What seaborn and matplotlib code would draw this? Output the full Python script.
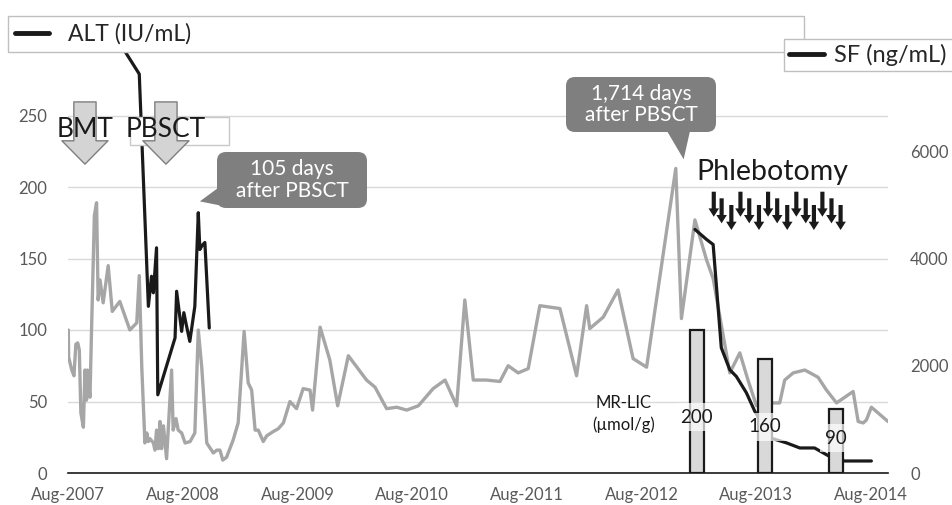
import pandas as pd
import matplotlib.pyplot as plt
import matplotlib.dates as mdates
from matplotlib.lines import Line2D
from matplotlib.patches import Rectangle, FancyBboxPatch, Polygon
from matplotlib.transforms import IdentityTransform
import seaborn as sns

# ALT (IU/mL), grey line, left axis
alt_dates = [
    "2007-08-02", "2007-08-03", "2007-08-13", "2007-08-20", "2007-08-26", "2007-09-01",
    "2007-09-06", "2007-09-11", "2007-09-19", "2007-09-24", "2007-09-29", "2007-10-02",
    "2007-10-10", "2007-10-15", "2007-10-24", "2007-10-31", "2007-11-05", "2007-11-11",
    "2007-11-21", "2007-12-07", "2007-12-20", "2008-01-13", "2008-02-14", "2008-03-07",
    "2008-03-15", "2008-03-23", "2008-04-02", "2008-04-08", "2008-04-13", "2008-04-18",
    "2008-04-29", "2008-05-04", "2008-05-09", "2008-05-15", "2008-05-20", "2008-05-25",
    "2008-05-31", "2008-06-10", "2008-06-26", "2008-07-01", "2008-07-10", "2008-07-17",
    "2008-07-28", "2008-08-08", "2008-08-24", "2008-09-08", "2008-09-19", "2008-09-30",
    "2008-10-16", "2008-11-06", "2008-11-17", "2008-11-27", "2008-12-06", "2008-12-18",
    "2009-01-08", "2009-01-24", "2009-02-12", "2009-02-25", "2009-03-08", "2009-03-19",
    "2009-03-29", "2009-04-14", "2009-04-25", "2009-05-16", "2009-06-01", "2009-06-17",
    "2009-07-08", "2009-07-29", "2009-08-19", "2009-09-10", "2009-09-18", "2009-10-12",
    "2009-11-12", "2009-12-07", "2010-01-10", "2010-03-09", "2010-04-05", "2010-05-12",
    "2010-06-13", "2010-07-15", "2010-08-21", "2010-10-07", "2010-11-14", "2010-12-21",
    "2011-01-16", "2011-02-12", "2011-03-26", "2011-05-08", "2011-06-03", "2011-07-05",
    "2011-08-06", "2011-09-12", "2011-11-15", "2012-01-07", "2012-02-08", "2012-02-18",
    "2012-04-01", "2012-05-18", "2012-07-05", "2012-08-17", "2012-11-18", "2012-12-06",
    "2013-01-18", "2013-02-24", "2013-03-17", "2013-05-09", "2013-06-10", "2013-07-06",
    "2013-08-02", "2013-09-03", "2013-10-15", "2013-10-31", "2013-11-27", "2014-01-03",
    "2014-02-14", "2014-03-13", "2014-04-14", "2014-06-06", "2014-06-22", "2014-07-08",
    "2014-07-18", "2014-08-03", "2014-08-19", "2014-09-25",
]
alt_values = [
    100, 81, 72, 68, 90, 91,
    86, 42, 32, 72, 51, 72,
    53, 100, 180, 189, 121, 135,
    119, 145, 113, 120, 100, 105,
    138, 74, 21, 28, 22, 24,
    21, 16, 30, 17, 36, 17,
    33, 10, 72, 30, 38, 30,
    28, 21, 22, 28, 100, 74,
    21, 14, 16, 16, 9, 11,
    23, 35, 99, 63, 58, 30,
    30, 22, 26, 29, 31, 35,
    50, 45, 59, 58, 44, 102,
    79, 47, 82, 65, 60, 45,
    46, 44, 47, 59, 65, 47,
    121, 65, 65, 64, 75, 70,
    73, 117, 115, 68, 117, 101,
    109, 128, 80, 74, 213, 108,
    177, 149, 136, 70, 84, 65,
    47, 49, 49, 65, 70, 72,
    67, 58, 49, 57, 36, 35,
    37, 46, 43, 36,
]

# SF (ng/mL), black line, right axis
sf_dates = [
    "2007-11-11", "2008-03-15", "2008-04-13", "2008-04-23", "2008-04-29", "2008-05-09",
    "2008-05-13", "2008-07-07", "2008-07-12", "2008-07-28", "2008-08-04", "2008-08-11",
    "2008-08-23", "2008-09-08", "2008-09-19", "2008-09-24", "2008-10-02", "2008-10-10",
    "2008-10-24",
    "2013-01-18", "2013-02-24", "2013-03-17", "2013-04-12", "2013-05-09", "2013-05-30",
    "2013-07-01", "2013-07-28", "2013-08-06", "2013-08-22", "2013-09-19", "2013-11-06",
    "2013-12-18", "2014-02-03", "2014-03-24", "2014-05-10", "2014-08-03",
]
sf_values = [
    8600, 7440, 3108, 3669, 3360, 4200,
    1458, 2520, 3389, 2641, 2990, 2785,
    2454, 3108, 4854, 4168, 4250, 4299,
    2704,
    4542, 4355, 4261, 2336, 1925, 1800,
    1495, 1146, 1065, 673, 648, 561,
    467, 467, 305, 224, 224,
]

# MR-LIC (umol/g) bars
lic_dates = ["2013-01-24", "2013-08-30", "2014-04-13"]
lic_values = [200, 160, 90]

# phlebotomy dates
phleb_dates = [
    "2013-03-19", "2013-04-13", "2013-05-14", "2013-06-12", "2013-07-10",
    "2013-08-10", "2013-09-08", "2013-10-07", "2013-11-08", "2013-12-07",
    "2014-01-06", "2014-02-01", "2014-02-28", "2014-03-29", "2014-04-27",
]

event_names = ["BMT", "PBSCT"]
event_dates = ["2007-09-24", "2008-06-08"]

callout_texts = ["105 days\nafter PBSCT", "1,714 days\nafter PBSCT"]
callout_dates = ["2008-09-24", "2012-12-13"]
callout_sf = [5065, 5850]

sns.set_theme(style="white")
plt.rcParams['font.family'] = ['Lato', 'DejaVu Sans']

alt = pd.DataFrame({"date": pd.to_datetime(alt_dates), "ALT": alt_values})
sf = pd.DataFrame({"date": pd.to_datetime(sf_dates), "SF": sf_values})
sf["period"] = (sf["date"] > "2010-01-01").astype(int)

W, H = 952, 505
fig = plt.figure(figsize=(W / 100, H / 100), dpi=100)
ax = fig.add_axes([68 / W, 32 / H, 820 / W, 429 / H])
ax2 = ax.twinx()
ax3 = ax.twinx()

grey = "#a6a6a6"
black = "#1a1a1a"
tick_col = "#595959"
call_col = "#7f7f7f"

sns.lineplot(data=alt, x="date", y="ALT", ax=ax, color=grey, lw=2.4,
             estimator=None, sort=False)
sns.lineplot(data=sf, x="date", y="SF", units="period", estimator=None,
             ax=ax2, color=black, lw=2.3, sort=False)
ax3.bar(pd.to_datetime(lic_dates), lic_values, width=44, color="#d9d9d9",
        edgecolor=black, lw=1.6, zorder=2)

ax.set_xlim(pd.Timestamp("2007-08-01"), pd.Timestamp("2014-09-25"))
ax.set_ylim(0, 300)
ax2.set_ylim(0, 8000)
ax3.set_ylim(0, 600)
ax.set_yticks(range(0, 251, 50))
ax2.set_yticks(range(0, 6001, 2000))
ax.xaxis.set_major_locator(mdates.MonthLocator(bymonth=8, bymonthday=1))
ax.xaxis.set_major_formatter(mdates.DateFormatter("%b-%Y"))

for a in (ax, ax2, ax3):
    a.set_xlabel("")
    a.set_ylabel("")
    for s in a.spines.values():
        s.set_visible(False)
ax.spines["bottom"].set_visible(True)
ax.spines["bottom"].set_color(black)
ax.spines["bottom"].set_linewidth(1.2)
ax.grid(axis="y", color="#d9d9d9", lw=1)
ax.grid(axis="x", visible=False)
ax.tick_params(axis="y", length=0, labelsize=12, labelcolor=tick_col, pad=15)
ax.tick_params(axis="x", length=0, labelsize=12, labelcolor=tick_col, pad=10)
ax2.tick_params(axis="y", length=0, labelsize=12, labelcolor=tick_col, pad=16)
ax3.yaxis.set_visible(False)

# bar labels
lic_label_y = [0.13, 0.108, 0.081]
for d, v, fy in zip(lic_dates, lic_values, lic_label_y):
    ax3.annotate(str(v), xy=(pd.Timestamp(d), fy), xycoords=("data", "axes fraction"),
                 ha="center", va="center", fontsize=13.5, color=black, zorder=4,
                 bbox=dict(boxstyle="square,pad=0.3", fc="white", ec="none", alpha=0.7))
ax3.text((624 - 68) / 820, (473 - 414) / 429, "MR-LIC\n(\u00b5mol/g)", transform=ax3.transAxes,
         ha="center", va="center", fontsize=12, color=black, linespacing=1.35)

# BMT / PBSCT markers
ax3.add_patch(Rectangle((130 / W, 1 - 145 / H), 99 / W, 28 / H, transform=fig.transFigure,
                        fc="white", ec="#c8c8c8", lw=1, zorder=5))
for name, d in zip(event_names, event_dates):
    x = pd.Timestamp(d)
    ax3.annotate("", xy=(x, 0.72), xytext=(x, 0.865), xycoords=("data", "axes fraction"),
                 textcoords=("data", "axes fraction"), zorder=6,
                 arrowprops=dict(arrowstyle="simple,head_length=0.42,head_width=0.83,tail_width=0.4",
                                 mutation_scale=40, fc="#d4d4d4", ec="#7f7f7f", lw=1,
                                 shrinkA=0, shrinkB=0))
    ax3.annotate(name, xy=(x, 0.783), xycoords=("data", "axes fraction"), ha="center",
                 va="baseline", fontsize=19, color=black, zorder=7)

# callouts: box (left, top, width, height in px) and tail base points (px)
callout_boxes = [(217, 152, 150, 56), (566, 77, 150, 55)]
callout_bases = [((218, 188), (233, 208)), ((667, 131), (690, 131))]
for t, d, v, (bx, by, bw, bh), bases in zip(callout_texts, callout_dates, callout_sf,
                                           callout_boxes, callout_bases):
    tip = ax2.transData.transform((mdates.date2num(pd.Timestamp(d)), v))
    ax3.add_patch(FancyBboxPatch((bx, H - by - bh), bw, bh,
                                 boxstyle="round,pad=0,rounding_size=9",
                                 transform=IdentityTransform(), fc=call_col, ec="none",
                                 zorder=8, clip_on=False))
    pts = [tip] + [(px, H - py) for px, py in bases]
    ax3.add_patch(Polygon(pts, closed=True, transform=IdentityTransform(), fc=call_col,
                          ec="none", zorder=8, clip_on=False))
    ax3.text(bx + bw / 2, H - by - bh / 2, t, transform=IdentityTransform(), ha="center",
             va="center", fontsize=15, color="white", zorder=9, linespacing=1.1)

# phlebotomy
ax3.text((772 - 68) / 820, (473 - 180) / 429, "Phlebotomy", transform=ax3.transAxes,
         ha="center", va="baseline", fontsize=20.5, color=black)
tops = [0.6557, 0.6403, 0.6247]
for i, d in enumerate(phleb_dates):
    x = pd.Timestamp(d)
    top = tops[i % 3]
    ax3.annotate("", xy=(x, top - 0.0583), xytext=(x, top), xycoords=("data", "axes fraction"),
                 textcoords=("data", "axes fraction"),
                 arrowprops=dict(arrowstyle="simple,head_length=0.3,head_width=0.38,tail_width=0.15",
                                 mutation_scale=20, fc=black, ec="none", shrinkA=0, shrinkB=0))

# legends
h = Line2D([0], [0], color=black, lw=3.5)
fig.legend(handles=[h], labels=["ALT (IU/mL)"], loc="center left",
           bbox_to_anchor=(8 / W, 1 - 55 / H, 796 / W, 42 / H), mode="expand",
           fontsize=16.5, fancybox=False, edgecolor="#bfbfbf", framealpha=1,
           borderpad=0.3, handlelength=1.5, handletextpad=0.8, borderaxespad=0)
fig.legend(handles=[h], labels=["SF (ng/mL)"], loc="center left",
           bbox_to_anchor=(784 / W, 1 - 76 / H, 220 / W, 42 / H), mode="expand",
           fontsize=17, fancybox=False, edgecolor="#bfbfbf", framealpha=1,
           borderpad=0.2, handlelength=1.5, handletextpad=0.4, borderaxespad=0)

fig.savefig("out.png", dpi=100)
plt.close()
